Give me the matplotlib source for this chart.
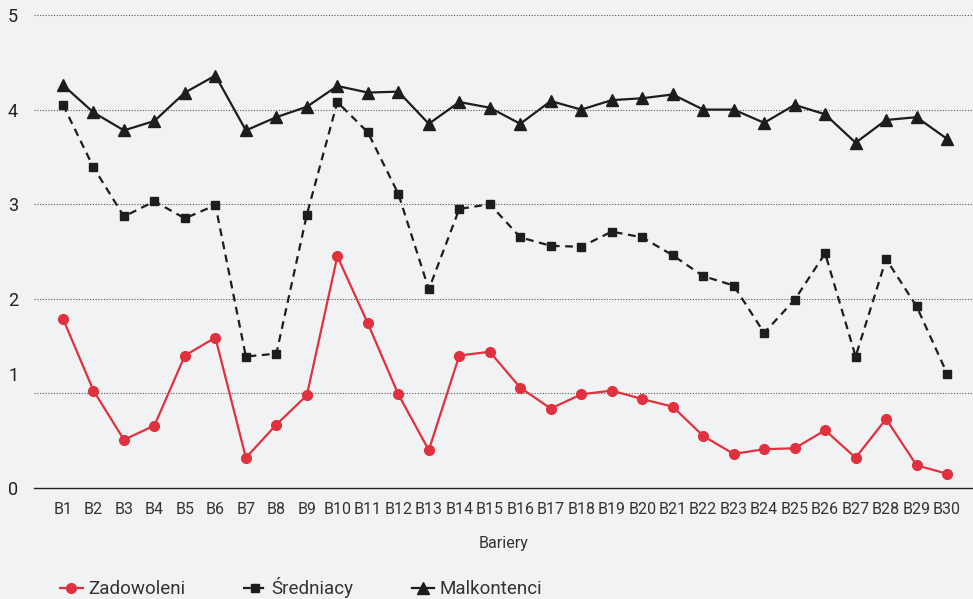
import matplotlib
matplotlib.use("Agg")
import matplotlib.pyplot as plt
import matplotlib.transforms as mtransforms
from matplotlib import font_manager

categories = [f"B{i}" for i in range(1, 31)]
zadowoleni = [1.79, 1.03, 0.51, 0.66, 1.40, 1.59, 0.32, 0.67, 0.98, 2.45,
              1.74, 0.99, 0.40, 1.40, 1.44, 1.06, 0.84, 0.99, 1.03, 0.94,
              0.86, 0.55, 0.36, 0.41, 0.42, 0.61, 0.32, 0.73, 0.24, 0.15]
sredniacy = [4.05, 3.39, 2.87, 3.03, 2.85, 2.99, 1.39, 1.42, 2.89, 4.08,
             3.76, 3.11, 2.10, 2.95, 3.00, 2.65, 2.56, 2.55, 2.71, 2.65,
             2.46, 2.24, 2.14, 1.64, 1.99, 2.48, 1.39, 2.42, 1.92, 1.21]
malkontenci = [4.26, 3.97, 3.78, 3.88, 4.18, 4.36, 3.78, 3.92, 4.03, 4.25,
               4.18, 4.19, 3.85, 4.08, 4.02, 3.85, 4.09, 4.00, 4.10, 4.12,
               4.16, 4.00, 4.00, 3.86, 4.05, 3.95, 3.65, 3.89, 3.92, 3.69]
series_names = ["Zadowoleni", "Średniacy", "Malkontenci"]
yticks = [0, 1, 2, 3, 4, 5]
xlabel = "Bariery"

names = {f.name for f in font_manager.fontManager.ttflist}
narrow = "Liberation Sans Narrow" if "Liberation Sans Narrow" in names else "Roboto"
plt.rcParams['font.family'] = ['Roboto', 'DejaVu Sans']

BG = "#f1f2f4"
RED = "#e0313e"
DARK = "#1e1c1d"

fig = plt.figure(figsize=(9.73, 5.99), dpi=100, facecolor=BG)
ax = fig.add_axes([34/973, (599-488)/599, 1 - 34/973, (488-15)/599])
ax.set_facecolor(BG)

x = list(range(len(categories)))
ax.plot(x, zadowoleni, color=RED, lw=1.6, marker='o', ms=7, label=series_names[0], zorder=3)
ax.plot(x, sredniacy, color=DARK, lw=1.6, ls=(0, (3.5, 2.5)), marker='s', ms=6, label=series_names[1], zorder=3)
ax.plot(x, malkontenci, color=DARK, lw=1.6, marker='^', ms=8, label=series_names[2], zorder=3)

ax.set_xlim(-0.95, 29.85)
ax.set_ylim(0, 5)
ax.set_yticks(yticks)
ax.set_yticklabels([str(v) for v in yticks], fontsize=13, color="#222222", ha='left')
ax.tick_params(axis='y', length=0, pad=(34 - 8) * 0.72)
ax.set_xticks(x)
ax.set_xticklabels(categories, fontsize=11.5, color="#333333", family=[narrow, 'DejaVu Sans'])
ax.tick_params(axis='x', length=0, pad=10)

# shift label "1" upward as in the reference
for t in ax.get_yticklabels():
    if t.get_text() == "1":
        t.set_transform(t.get_transform() + mtransforms.ScaledTranslation(0, 19/100, fig.dpi_scale_trans))

for v in yticks[1:]:
    ax.axhline(v, color="#555555", lw=0.8, ls=(0, (1, 1.5)), zorder=1)

for s in ['top', 'right', 'left']:
    ax.spines[s].set_visible(False)
ax.spines['bottom'].set_color("#222222")
ax.spines['bottom'].set_linewidth(1.0)

ax.set_xlabel(xlabel, fontsize=11.5, color="#333333", labelpad=14, family=[narrow, 'DejaVu Sans'])

leg = fig.legend(loc='center left', bbox_to_anchor=(60/973, 1 - 588/599), ncol=3,
                 frameon=False, fontsize=13.5, handlelength=1.2, handletextpad=0.3,
                 columnspacing=3.1, labelcolor="#333333", borderpad=0, borderaxespad=0)

fig.savefig("out.png", dpi=100, facecolor=BG)
